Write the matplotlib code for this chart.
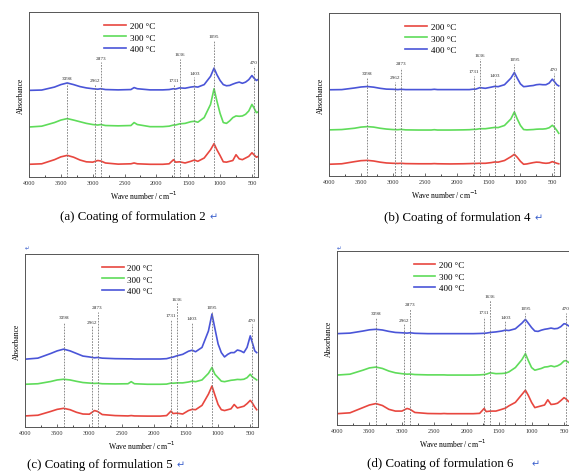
import matplotlib.pyplot as plt
from matplotlib.ticker import MultipleLocator

plt.rcParams['font.family'] = ['Liberation Serif', 'DejaVu Sans']

wn = [4000, 3800, 3600, 3500, 3400, 3300, 3200, 3100, 3000, 2920, 2873, 2800,
      2600, 2400, 2350, 2300, 2100, 1900, 1800, 1731, 1700, 1636, 1550, 1460,
      1403, 1350, 1250, 1150, 1095, 1050, 1000, 950, 900, 850, 800, 750, 700,
      650, 600, 550, 500, 470, 430, 400]

temps = ['200 °C', '300 °C', '400 °C']
colors = ['#e8473f', '#5fdc5a', '#4a55d8']

peaks = [3398, 2962, 2873, 1731, 1636, 1403, 1095, 470]

# formulation 2
f2_200 = [.077, .08, .105, .122, .131, .12, .103, .092, .09, .1, .097, .085,
          .078, .08, .085, .08, .077, .077, .08, .105, .09, .092, .085, .095,
          .103, .095, .115, .165, .202, .165, .13, .092, .09, .095, .1, .135, .11,
          .105, .115, .125, .147, .135, .12, .125]
f2_300 = [.303, .308, .33, .345, .354, .345, .335, .325, .318, .315, .318, .312,
          .31, .312, .33, .318, .305, .305, .308, .315, .315, .322, .325, .335,
          .338, .332, .36, .44, .535, .46, .385, .33, .325, .34, .36, .37, .368,
          .37, .38, .4, .44, .42, .39, .395]
f2_400 = [.525, .527, .545, .56, .57, .56, .548, .54, .535, .532, .535, .53,
          .528, .53, .542, .535, .528, .528, .53, .535, .533, .54, .538, .545,
          .548, .545, .56, .61, .66, .62, .585, .56, .553, .555, .563, .57, .575,
          .568, .575, .59, .615, .6, .585, .592]

# formulation 4
f4_200 = [.072, .075, .088, .094, .096, .092, .085, .08, .078, .077, .078, .076,
          .075, .075, .076, .075, .074, .075, .076, .077, .077, .078, .078, .082,
          .086, .085, .095, .118, .133, .115, .09, .072, .074, .078, .082, .085,
          .084, .08, .078, .08, .088, .084, .078, .075]
f4_300 = [.283, .285, .293, .3, .303, .3, .293, .288, .285, .284, .286, .283,
          .282, .282, .284, .282, .282, .283, .284, .286, .286, .29, .29, .295,
          .298, .297, .31, .35, .393, .35, .31, .285, .283, .284, .285, .287,
          .288, .288, .29, .296, .311, .3, .28, .262]
f4_400 = [.529, .53, .54, .546, .549, .545, .538, .533, .532, .53, .532, .53,
          .53, .53, .532, .53, .53, .53, .53, .533, .533, .542, .538, .545,
          .55, .548, .56, .6, .635, .6, .565, .548, .55, .553, .555, .56, .562,
          .56, .56, .57, .594, .58, .56, .553]

# formulation 5
f5_200 = [.064, .068, .09, .102, .108, .1, .085, .075, .074, .095, .09, .072,
          .066, .064, .066, .064, .063, .063, .066, .092, .078, .08, .075, .095,
          .102, .1, .125, .19, .237, .185, .13, .1, .095, .1, .105, .13, .11,
          .115, .12, .135, .154, .14, .115, .1]
f5_300 = [.247, .25, .263, .272, .276, .272, .264, .257, .254, .252, .253, .25,
          .249, .25, .262, .25, .247, .247, .248, .254, .253, .255, .255, .26,
          .265, .262, .272, .31, .344, .305, .285, .265, .262, .266, .27, .272,
          .275, .274, .276, .285, .305, .29, .28, .272]
f5_400 = [.392, .398, .425, .44, .45, .44, .425, .41, .405, .4, .402, .398,
          .395, .394, .394, .393, .393, .393, .395, .402, .404, .412, .42, .438,
          .444, .435, .46, .555, .653, .57, .48, .43, .405, .42, .43, .43, .445,
          .44, .43, .46, .527, .49, .44, .43]

# formulation 6
f6_200 = [.065, .07, .1, .115, .123, .112, .09, .08, .08, .095, .09, .072,
          .066, .065, .066, .065, .065, .065, .067, .095, .077, .08, .08, .09,
          .097, .11, .13, .175, .2, .17, .13, .1, .105, .11, .115, .145, .118,
          .12, .125, .14, .157, .15, .135, .13]
f6_300 = [.287, .292, .315, .328, .333, .325, .31, .3, .295, .292, .293, .29,
          .288, .288, .288, .287, .287, .287, .288, .29, .292, .3, .295, .296,
          .298, .305, .33, .375, .41, .37, .33, .315, .32, .325, .333, .335, .34,
          .335, .34, .35, .368, .37, .36, .355]
f6_400 = [.525, .528, .54, .547, .55, .546, .538, .532, .53, .528, .53, .527,
          .525, .525, .525, .525, .525, .525, .526, .527, .528, .532, .535, .54,
          .545, .543, .553, .585, .607, .585, .56, .54, .538, .545, .55, .553,
          .557, .553, .555, .565, .582, .58, .57, .565]

# height of each peak label (fraction of the axis height)
lab_a = [.586, .576, .711, .576, .733, .62, .842, .685]
lab_b = [.619, .594, .68, .631, .733, .61, .703, .645]
lab_c = [.624, .598, .68, .633, .73, .618, .68, .608]
lab_d = [.63, .594, .684, .636, .732, .611, .659, .659]

captions = ['(a) Coating of formulation 2', '(b) Coating of formulation 4',
            '(c) Coating of formulation 5', '(d) Coating of formulation 6']

W, H = 569, 477
fig = plt.figure(figsize=(W / 100, H / 100), dpi=100)


def panel(rect, series, labels, xmax_right, caption, cap_xy, arrow_x):
    ax = fig.add_axes(rect)
    for ys, t, c in zip(series, temps, colors):
        ax.plot(wn, ys, color=c, lw=1.2, label=t)
    for p, h in zip(peaks, labels):
        ax.plot([p, p], [0, h - 0.015], color='#777777', lw=0.6, ls=(0, (2, 1.5)))
        ax.text(p, h, str(p), fontsize=3.8, ha='center', va='bottom', color='#333333')
    ax.set_xlim(4000, xmax_right)
    ax.set_ylim(0, 1)
    ax.set_yticks([])
    ax.xaxis.set_major_locator(MultipleLocator(500))
    ax.xaxis.set_minor_locator(MultipleLocator(250))
    ax.tick_params(axis='x', direction='in', labelsize=4.5, length=2.5, width=0.5,
                   pad=2, colors='#333333')
    ax.tick_params(axis='x', which='minor', direction='in', length=1.5, width=0.5)
    for s in ax.spines.values():
        s.set_linewidth(0.7)
        s.set_color('#555555')
    ax.set_xlabel('Wave number / cm$^{-1}$', fontsize=5.5, labelpad=3)
    ax.set_ylabel('Absorbance', fontsize=5.5, labelpad=3)
    ax.legend(loc='upper center', bbox_to_anchor=(0.44, 0.99), frameon=False,
              fontsize=6.5, handlelength=2.4, handletextpad=0.4, labelspacing=0.35)
    fig.text(cap_xy[0] / W, 1 - cap_xy[1] / H, caption, fontsize=9.3,
             ha='left', va='center')
    fig.text(arrow_x / W, 1 - cap_xy[1] / H, '↵', fontsize=7, color='#3a5fcd',
             ha='left', va='center', family='DejaVu Sans')
    return ax


panel([29 / W, 1 - 178 / H, 229 / W, 165 / H], [f2_200, f2_300, f2_400], lab_a,
      405, captions[0], (60, 217), 210)
panel([329 / W, 1 - 177 / H, 231 / W, 163 / H], [f4_200, f4_300, f4_400], lab_b,
      380, captions[1], (384, 218), 535)
panel([25 / W, 1 - 428 / H, 233 / W, 173 / H], [f5_200, f5_300, f5_400], lab_c,
      380, captions[2], (27, 465), 177)
ax_d = panel([337 / W, 1 - 426 / H, 232 / W, 174 / H], [f6_200, f6_300, f6_400],
             lab_d, 423, captions[3], (367, 464), 532)
ax_d.spines['right'].set_visible(False)

# small return marks at the top-left of the lower panels
fig.text(25 / W, 1 - 250 / H, '↵', fontsize=4, color='#3a5fcd', family='DejaVu Sans')
fig.text(337 / W, 1 - 250 / H, '↵', fontsize=4, color='#3a5fcd', family='DejaVu Sans')

fig.savefig('out.png', dpi=100)
